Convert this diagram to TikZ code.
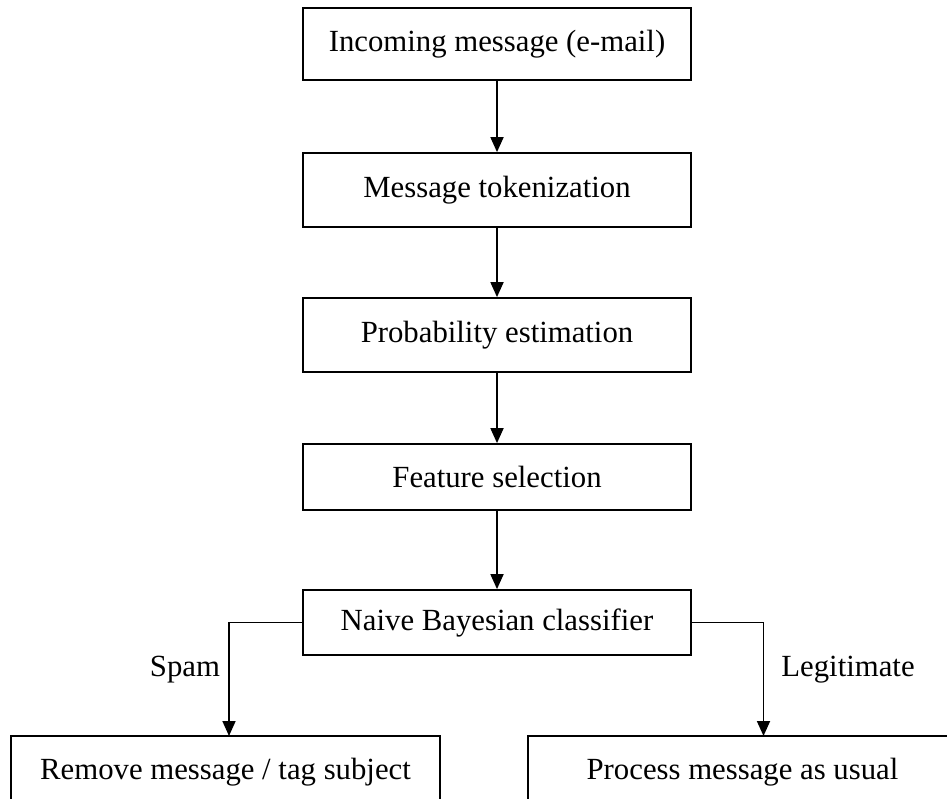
\documentclass[tikz,border=0pt]{standalone}
\usepackage{fontspec}
\setmainfont{Liberation Serif}
\usetikzlibrary{arrows.meta}

\begin{document}
\begin{tikzpicture}[>={Triangle[length=0.3cm,width=0.26cm]},line width=1pt,
    stage/.style={draw,minimum width=7.76cm,inner sep=0pt},
    outcome/.style={draw,minimum width=8.58cm,minimum height=1.44cm,inner sep=0pt}]
  \useasboundingbox (0,0) rectangle (18.94,15.96);
  \clip (0,0) rectangle (18.94,15.96);
  \fontsize{17.5}{21}\selectfont
  \node[stage,minimum height=1.44cm] (mail) at (9.94,15.08) {Incoming message (e-mail)};
  \node[stage,minimum height=1.48cm] (token) at (9.94,12.16) {Message tokenization};
  \node[stage,minimum height=1.48cm] (prob) at (9.94,9.26) {Probability estimation};
  \node[stage,minimum height=1.32cm] (feat) at (9.94,6.42) {Feature selection};
  \node[stage,minimum height=1.30cm] (nbc) at (9.94,3.51) {Naive Bayesian classifier};
  \node[outcome] (remove) at (4.51,0.52) {Remove message / tag subject};
  \node[outcome] (usual) at (14.85,0.52) {Process message as usual};
  \coordinate (spamend) at (4.58,1.24);
  \coordinate (legitend) at (15.27,1.24);
  \draw[->] (mail) -- (token);
  \draw[->] (token) -- (prob);
  \draw[->] (prob) -- (feat);
  \draw[->] (feat) -- (nbc);
  \draw[->] (nbc.west) -| (spamend);
  \draw[->] (nbc.east) -| (legitend);
  \node (spam) at (3.7,2.56) {Spam};
  \node (legit) at (16.96,2.56) {Legitimate};
\end{tikzpicture}
\end{document}
